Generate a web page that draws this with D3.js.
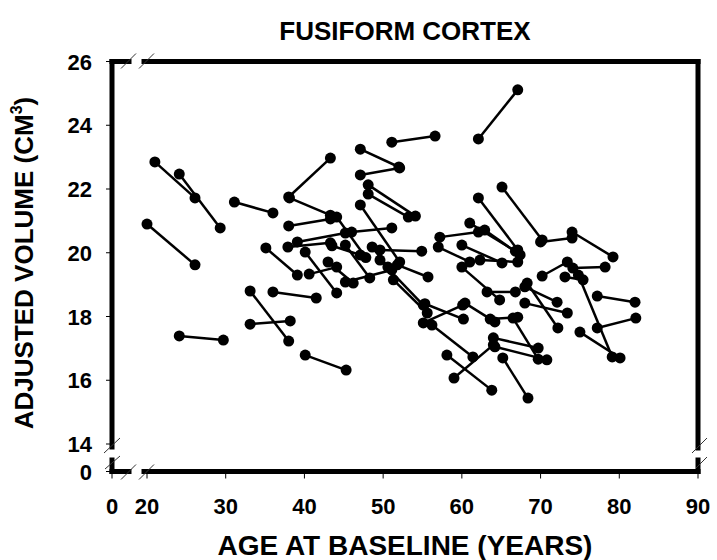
<!DOCTYPE html>
<html>
<head>
<meta charset="utf-8">
<script src="https://cdn.jsdelivr.net/npm/d3@7"></script>
<style>
  body { margin: 0; background: #fff; }
  text { font-family: "Liberation Sans", Arial, sans-serif; font-weight: bold; }
</style>
</head>
<body>
<svg id="chart" width="717" height="560"></svg>
<script>
const title = 'FUSIFORM CORTEX';
const xTitle = 'AGE AT BASELINE (YEARS)';
const yTitle = 'ADJUSTED VOLUME (CM';
const xTicks = [0, 20, 30, 40, 50, 60, 70, 80, 90];
const yTicks = [0, 14, 16, 18, 20, 22, 24, 26];

// one entry per subject: baseline scan and follow-up scan
const baseAge   = [20.0, 21.0, 24.1, 31.1, 24.1, 33.1, 33.1, 36.0, 40.1, 38.0,
                   38.1, 38.0, 35.1, 37.9, 39.1, 40.1, 40.6, 43.0, 45.2, 51.1,
                   47.1, 47.1, 48.1, 48.1, 47.1, 46.0, 43.5, 48.6, 51.8, 49.6,
                   44.1, 45.2, 49.6, 51.3, 55.1, 55.3, 56.2, 58.1, 59.0, 57.2,
                   57.0, 62.1, 62.1, 65.1, 70.0, 74.0, 60.0, 60.0, 62.9, 62.3,
                   63.2, 68.0, 68.0, 68.3, 60.4, 63.6, 64.0, 64.2, 66.5, 65.2,
                   74.1, 70.2, 73.1, 74.8, 77.2, 77.2, 75.0, 61.0];
const baseVol   = [20.90, 22.85, 22.47, 21.59, 17.39, 18.80, 17.76, 18.77, 16.79, 21.75,
                   21.72, 20.84, 20.15, 20.18, 20.34, 20.02, 19.33, 19.71, 20.24, 23.47,
                   23.25, 22.44, 22.13, 21.84, 21.50, 20.65, 20.22, 20.18, 19.62, 20.09,
                   21.12, 19.08, 19.77, 19.15, 17.80, 18.40, 17.73, 16.79, 16.07, 20.49,
                   20.18, 23.57, 21.72, 22.06, 20.34, 20.65, 20.24, 19.55, 20.71, 19.77,
                   18.77, 18.93, 18.42, 19.05, 18.42, 17.92, 17.33, 17.05, 17.95, 16.70,
                   19.52, 19.27, 19.24, 19.30, 18.64, 17.64, 17.51, 20.93];
const followAge = [26.1, 26.1, 29.3, 36.0, 29.7, 38.0, 38.2, 41.5, 45.3, 43.3,
                   43.3, 43.3, 39.1, 43.3, 45.2, 44.1, 44.1, 46.2, 48.3, 56.6,
                   52.0, 52.1, 54.1, 53.2, 52.1, 51.1, 47.1, 50.6, 55.7, 54.9,
                   47.8, 51.1, 55.1, 55.6, 60.1, 60.2, 61.4, 63.8, 64.0, 62.1,
                   61.0, 67.1, 67.1, 70.2, 74.0, 79.2, 65.1, 64.8, 67.4, 67.1,
                   66.8, 72.1, 73.4, 72.2, 64.2, 67.1, 69.7, 70.8, 69.7, 68.4,
                   78.2, 73.4, 75.4, 79.1, 82.0, 82.1, 80.1, 66.8];
const followVol = [19.62, 21.72, 20.78, 21.25, 17.26, 17.23, 17.86, 18.58, 16.32, 22.97,
                   21.18, 21.06, 19.30, 20.31, 20.62, 18.74, 19.55, 19.05, 19.21, 23.66,
                   22.69, 22.66, 21.15, 21.12, 19.71, 20.78, 19.93, 19.55, 19.24, 20.05,
                   19.85, 19.46, 18.36, 18.11, 18.36, 17.92, 16.73, 15.69, 17.11, 20.65,
                   19.71, 25.11, 20.09, 20.40, 20.46, 19.87, 19.68, 18.52, 19.93, 19.71,
                   18.77, 18.45, 18.11, 17.64, 17.83, 17.98, 17.01, 16.64, 16.66, 15.44,
                   19.55, 19.71, 19.15, 16.73, 18.45, 17.95, 16.70, 20.05];

const subjects = baseAge.map((a, i) => ({
  a0: a, v0: baseVol[i], a1: followAge[i], v1: followVol[i]
}));

const svg = d3.select('#chart');
const plotLeft = 112, plotRight = 698, plotTop = 61.5, plotBottom = 471.5;

// broken axes: 0 sits apart from the main range
const x = d3.scaleLinear().domain([20, 90]).range([147, plotRight]);
const y = d3.scaleLinear().domain([14, 26]).range([444, plotTop]);
const xPos = v => v === 0 ? plotLeft : x(v);
const yPos = v => v === 0 ? plotBottom : y(v);

// ticks
svg.selectAll('.xtick')
   .data(xTicks)
   .enter()
   .append('line')
   .attr('x1', d => xPos(d))
   .attr('x2', d => xPos(d))
   .attr('y1', plotBottom)
   .attr('y2', plotBottom + 7)
   .attr('stroke', 'black')
   .attr('stroke-width', 1);
svg.selectAll('.xlab')
   .data(xTicks)
   .enter()
   .append('text')
   .attr('x', d => xPos(d))
   .attr('y', 514)
   .attr('text-anchor', 'middle')
   .attr('font-size', '22px')
   .text(d => d);

svg.selectAll('.ytick')
   .data(yTicks)
   .enter()
   .append('line')
   .attr('x1', plotLeft - 6)
   .attr('x2', plotLeft)
   .attr('y1', d => yPos(d))
   .attr('y2', d => yPos(d))
   .attr('stroke', 'black')
   .attr('stroke-width', 1);
svg.selectAll('.ylab')
   .data(yTicks)
   .enter()
   .append('text')
   .attr('x', 92)
   .attr('y', d => yPos(d) + 8)
   .attr('text-anchor', 'end')
   .attr('font-size', '22px')
   .text(d => d);

// frame with breaks
const frame = [
  [[plotLeft, plotTop], [129, plotTop]],
  [[144, plotTop], [plotRight, plotTop]],
  [[plotLeft, plotTop], [plotLeft, 447]],
  [[plotLeft, 460], [plotLeft, plotBottom]],
  [[plotLeft, plotBottom], [129, plotBottom]],
  [[144, plotBottom], [plotRight, plotBottom]],
  [[plotRight, plotTop], [plotRight, 448]],
  [[plotRight, 460], [plotRight, plotBottom]]
];
svg.selectAll('.frame')
   .data(frame)
   .enter()
   .append('line')
   .attr('x1', d => d[0][0]).attr('y1', d => d[0][1])
   .attr('x2', d => d[1][0]).attr('y2', d => d[1][1])
   .attr('stroke', 'black')
   .attr('stroke-width', 5)
   .attr('stroke-linecap', 'square');

const slashes = [
  [[121, plotTop + 7], [136, plotTop - 8]], [[139, plotTop + 7], [154, plotTop - 8]],
  [[121, plotBottom + 8], [136, plotBottom - 7]], [[139, plotBottom + 8], [154, plotBottom - 7]],
  [[104, 453], [120, 438]], [[105, 469], [120, 456]],
  [[692, 453], [707, 438]], [[696, 468], [707, 457]]
];
svg.selectAll('.slash')
   .data(slashes)
   .enter()
   .append('line')
   .attr('x1', d => d[0][0]).attr('y1', d => d[0][1])
   .attr('x2', d => d[1][0]).attr('y2', d => d[1][1])
   .attr('stroke', '#333')
   .attr('stroke-width', 1);

// subjects
svg.selectAll('.pair')
   .data(subjects)
   .enter()
   .append('line')
   .attr('x1', d => x(d.a0)).attr('y1', d => y(d.v0))
   .attr('x2', d => x(d.a1)).attr('y2', d => y(d.v1))
   .attr('stroke', 'black')
   .attr('stroke-width', 2.5);
const pts = subjects.flatMap(d => [[d.a0, d.v0], [d.a1, d.v1]]);
svg.selectAll('.pt')
   .data(pts)
   .enter()
   .append('circle')
   .attr('cx', d => x(d[0]))
   .attr('cy', d => y(d[1]))
   .attr('r', 5.5)
   .attr('fill', 'black');

// titles
svg.append('text')
   .attr('x', 405).attr('y', 40)
   .attr('text-anchor', 'middle')
   .attr('font-size', '26px')
   .text(title);
svg.append('text')
   .attr('x', 405).attr('y', 555)
   .attr('text-anchor', 'middle')
   .attr('font-size', '28px')
   .text(xTitle);
const yt = svg.append('text')
   .attr('transform', 'translate(33,263) rotate(-90)')
   .attr('text-anchor', 'middle')
   .attr('font-size', '26px');
yt.append('tspan').text(yTitle);
yt.append('tspan').attr('font-size', '16px').attr('dy', -11).text('3');
yt.append('tspan').attr('dy', 11).text(')');
</script>
</body>
</html>
